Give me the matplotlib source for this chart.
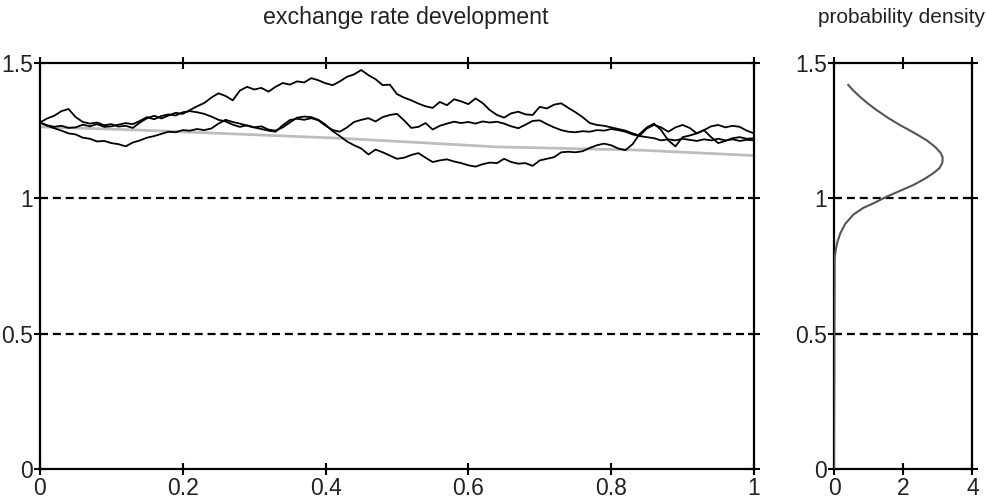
import numpy as np
import matplotlib
matplotlib.use("Agg")
import matplotlib.pyplot as plt

plt.rcParams['font.family'] = ['Liberation Sans', 'DejaVu Sans']

# time grid (step 0.01)
t = [i / 100 for i in range(101)]

path_a = [1.280, 1.295, 1.305, 1.322, 1.330, 1.300, 1.282, 1.276, 1.280, 1.270,
          1.274, 1.265, 1.268, 1.260, 1.280, 1.296, 1.305, 1.295, 1.306, 1.316,
          1.312, 1.326, 1.340, 1.352, 1.372, 1.388, 1.378, 1.362, 1.398, 1.412,
          1.402, 1.408, 1.394, 1.412, 1.426, 1.420, 1.432, 1.428, 1.444, 1.436,
          1.425, 1.418, 1.432, 1.449, 1.458, 1.474, 1.455, 1.440, 1.418, 1.420,
          1.385, 1.372, 1.362, 1.350, 1.340, 1.334, 1.356, 1.344, 1.366, 1.358,
          1.348, 1.369, 1.352, 1.326, 1.308, 1.298, 1.314, 1.320, 1.310, 1.308,
          1.338, 1.332, 1.346, 1.351, 1.334, 1.318, 1.300, 1.278, 1.271, 1.268,
          1.262, 1.256, 1.250, 1.240, 1.232, 1.258, 1.271, 1.262, 1.246, 1.262,
          1.271, 1.260, 1.240, 1.252, 1.266, 1.271, 1.262, 1.268, 1.264, 1.250,
          1.240]

path_b = [1.280, 1.270, 1.264, 1.268, 1.260, 1.262, 1.272, 1.266, 1.274, 1.264,
          1.266, 1.272, 1.278, 1.274, 1.286, 1.300, 1.292, 1.304, 1.310, 1.306,
          1.318, 1.322, 1.318, 1.312, 1.302, 1.290, 1.284, 1.272, 1.264, 1.270,
          1.262, 1.256, 1.250, 1.246, 1.270, 1.289, 1.294, 1.290, 1.296, 1.288,
          1.268, 1.252, 1.246, 1.262, 1.282, 1.290, 1.296, 1.284, 1.300, 1.308,
          1.312, 1.288, 1.260, 1.264, 1.278, 1.254, 1.268, 1.276, 1.283, 1.278,
          1.282, 1.276, 1.284, 1.280, 1.283, 1.276, 1.266, 1.259, 1.272, 1.286,
          1.288, 1.274, 1.262, 1.252, 1.246, 1.244, 1.248, 1.246, 1.252, 1.250,
          1.256, 1.252, 1.246, 1.236, 1.230, 1.226, 1.222, 1.214, 1.218, 1.214,
          1.220, 1.216, 1.212, 1.218, 1.214, 1.220, 1.214, 1.218, 1.212, 1.216,
          1.214]

path_c = [1.280, 1.268, 1.259, 1.250, 1.240, 1.236, 1.224, 1.220, 1.210, 1.212,
          1.204, 1.200, 1.192, 1.206, 1.214, 1.224, 1.230, 1.238, 1.246, 1.244,
          1.252, 1.250, 1.256, 1.252, 1.258, 1.276, 1.290, 1.282, 1.276, 1.268,
          1.262, 1.266, 1.254, 1.250, 1.262, 1.280, 1.298, 1.302, 1.300, 1.290,
          1.272, 1.248, 1.230, 1.210, 1.196, 1.184, 1.162, 1.180, 1.170, 1.158,
          1.146, 1.150, 1.160, 1.167, 1.150, 1.134, 1.140, 1.144, 1.136, 1.130,
          1.122, 1.117, 1.126, 1.132, 1.130, 1.146, 1.134, 1.128, 1.130, 1.120,
          1.140, 1.146, 1.152, 1.170, 1.172, 1.170, 1.174, 1.186, 1.196, 1.202,
          1.196, 1.184, 1.178, 1.200, 1.238, 1.262, 1.276, 1.252, 1.214, 1.192,
          1.226, 1.232, 1.240, 1.252, 1.226, 1.204, 1.212, 1.222, 1.226, 1.220,
          1.222]

# expected (drift) line
drift_t = [0.0, 0.14, 0.42, 0.64, 0.84, 1.0]
drift_v = [1.264, 1.252, 1.222, 1.190, 1.178, 1.158]

# probability density (density value, exchange rate)
dens_x = [0.0, 0.02, 0.05, 0.10, 0.18, 0.32, 0.56, 0.85, 1.13, 1.52, 1.95, 2.29,
          2.62, 2.86, 3.05, 3.13, 3.14, 3.08, 2.92, 2.67, 2.30, 1.90, 1.55, 1.23,
          0.98, 0.75, 0.56, 0.41]
dens_y = [0.0, 0.78, 0.81, 0.84, 0.87, 0.905, 0.940, 0.965, 0.981, 1.006, 1.030, 1.049,
          1.072, 1.092, 1.112, 1.132, 1.150, 1.168, 1.190, 1.215, 1.243, 1.271, 1.298, 1.326,
          1.350, 1.375, 1.398, 1.419]

main_xticks = [0, 0.2, 0.4, 0.6, 0.8, 1]
main_xlabels = ['0', '0.2', '0.4', '0.6', '0.8', '1']
yticks = [0, 0.5, 1, 1.5]
ylabels = ['0', '0.5', '1', '1.5']
dens_xticks = [0, 2, 4]
dens_xlabels = ['0', '2', '4']
hlines = [0.5, 1.0]

fig = plt.figure(figsize=(9.87, 5.01), dpi=100)
ax = fig.add_axes([0.0405, 0.0639, 0.7234, 0.8104])
ax2 = fig.add_axes([0.845, 0.0639, 0.1403, 0.8104])

def style(a):
    for s in a.spines.values():
        s.set_linewidth(1.6)
        s.set_color('black')
    a.tick_params(direction='inout', length=8, width=1.5, labelsize=16.5,
                  top=True, right=True, colors='black', labelcolor='#222222')
    a.tick_params(axis='x', pad=2)
    a.tick_params(axis='y', pad=1)
    a.set_ylim(0, 1.5)
    a.set_yticks(yticks)
    a.set_yticklabels(ylabels)
    for h in hlines:
        a.axhline(h, color='black', lw=1.6, ls=(0, (3.6, 2.2)), zorder=1)

style(ax)
ax.set_xlim(0, 1)
ax.set_xticks(main_xticks)
ax.set_xticklabels(main_xlabels)
ax.plot(drift_t, drift_v, color='#bdbdbd', lw=2.0, zorder=2)
for p in (path_a, path_b, path_c):
    ax.plot(t, p, color='black', lw=1.3, zorder=3)

style(ax2)
ax2.set_xlim(0, 4)
ax2.set_xticks(dens_xticks)
ax2.set_xticklabels(dens_xlabels)
ax2.plot(dens_x, dens_y, color='#555555', lw=1.5, zorder=3)

fig.text(0.4115, 0.966, 'exchange rate development', ha='center', va='center',
         fontsize=16.7, color='#222222')
fig.text(0.9135, 0.966, 'probability density', ha='center', va='center',
         fontsize=15, color='#222222')

fig.savefig('out.png', dpi=100)
